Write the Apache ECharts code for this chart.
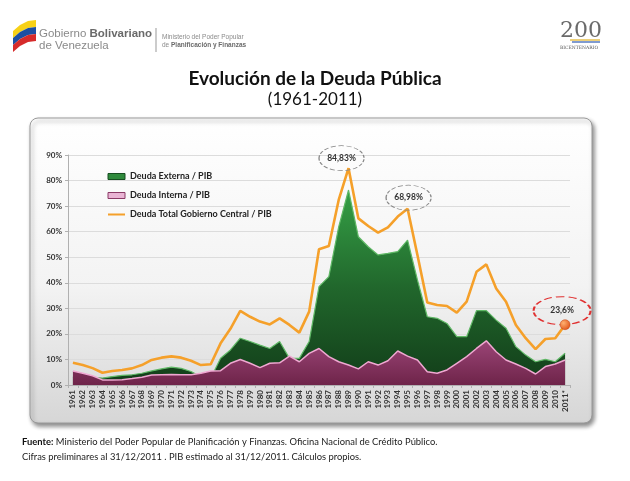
<!DOCTYPE html>
<html><head><meta charset="utf-8">
<script src="https://cdn.jsdelivr.net/npm/echarts@6/dist/echarts.min.js"></script>
<style>html,body{margin:0;padding:0;background:#fff}#c{width:630px;height:481px}</style>
</head><body><div id="c"></div>
<script>
const years = ['1961','1962','1963','1964','1965','1966','1967','1968','1969','1970','1971','1972','1973','1974','1975','1976','1977','1978','1979','1980','1981','1982','1983','1984','1985','1986','1987','1988','1989','1990','1991','1992','1993','1994','1995','1996','1997','1998','1999','2000','2001','2002','2003','2004','2005','2006','2007','2008','2009','2010','2011*'];
const deudaTotal = [8.7,7.8,6.6,4.8,5.5,5.9,6.5,7.8,9.8,10.7,11.2,10.7,9.5,7.8,8.1,16.3,22.0,29.0,26.7,24.8,23.7,26.1,23.5,20.5,28.7,53.1,54.4,72.4,84.83,65.2,62.2,59.6,61.7,65.9,68.98,50.9,32.3,31.3,30.9,28.3,32.6,44.3,47.2,37.8,32.6,23.5,18.3,14.0,18.0,18.3,23.6];
const deudaExterna = [3.2,3.2,3.0,2.7,3.3,3.8,4.0,4.6,5.5,6.3,7.0,6.5,5.3,3.2,2.6,10.5,13.7,18.3,17.0,15.6,14.3,17.0,10.4,10.4,17.0,38.5,42.4,61.9,76.3,58.0,54.1,50.9,51.5,52.2,56.7,41.1,26.7,26.1,24.1,18.9,18.9,29.1,29.1,25.4,22.2,15.0,11.7,9.1,10.0,9.1,12.4];
const deudaInterna = [5.5,4.6,3.6,2.0,2.0,2.1,2.5,3.0,3.9,4.0,4.1,4.0,4.0,4.6,5.5,5.6,8.5,10.0,8.5,6.8,8.5,8.7,11.3,9.1,12.4,14.3,11.1,9.1,7.8,6.3,9.1,7.8,9.5,13.3,11.3,9.8,5.2,4.6,5.9,8.5,11.1,14.3,17.3,13.0,9.8,8.2,6.5,4.3,7.2,8.2,9.8];
const seriesNames = ['Deuda Externa / PIB','Deuda Interna / PIB','Deuda Total Gobierno Central / PIB'];
const yAxisMin = 0, yAxisMax = 90, yAxisStep = 10;
const calloutYears = ['1989','1995','2011*'];
const calloutTexts = ['84,83%','68,98%','23,6%'];
const trendArrow = [['1993', 93], ['2010', 41.5]];

const F = 'Lato, "Open Sans", sans-serif';
const A = '"Liberation Sans", Arial, sans-serif';
const ellipsePath = 'path://M0,50 C0,22 22,0 50,0 C78,0 100,22 100,50 C100,78 78,100 50,100 C22,100 0,78 0,50 Z';
const totalIdx = n => years.indexOf(n);

const chart = echarts.init(document.getElementById('c'));
chart.setOption({
  backgroundColor: '#ffffff',
  animation: false,
  title: {
    text: 'Evolución de la Deuda Pública',
    subtext: '(1961-2011)',
    left: 'center', top: 64, itemGap: 3,
    textStyle: {fontFamily: F, fontSize: 19, fontWeight: 'bold', color: '#111'},
    subtextStyle: {fontFamily: F, fontSize: 17, color: '#111'}
  },
  graphic: [
    {type:'rect', z:-10, shape:{x:30,y:118,width:562,height:305,r:8},
     style:{fill:{type:'linear',x:0,y:0,x2:0,y2:1,colorStops:[{offset:0,color:'#ffffff'},{offset:0.55,color:'#f3f3f3'},{offset:1,color:'#d6d6d6'}]},
       stroke:'#9a9a9a', lineWidth:1, shadowBlur:4, shadowOffsetX:2, shadowOffsetY:3, shadowColor:'rgba(0,0,0,0.45)'}},
    // flag logo
    {type:'polygon', shape:{points:[[13,31],[20,25],[28,21],[36,20],[36,27],[28,28],[20,32],[13,38]]}, style:{fill:'#f7d117'}},
    {type:'polygon', shape:{points:[[13,38],[20,32],[28,28],[36,27],[36,34],[28,35],[20,39],[13,45]]}, style:{fill:'#1c4fa3'}},
    {type:'polygon', shape:{points:[[13,45],[20,39],[28,35],[36,34],[36,41],[28,42],[20,46],[13,52]]}, style:{fill:'#d62b2b'}},
    {type:'text', left:39, top:28, style:{text:'{l|Gobierno }{b|Bolivariano}', rich:{l:{fontFamily:A,fontSize:11.5,fill:'#8a8a8a'},b:{fontFamily:A,fontSize:11.5,fontWeight:'bold',fill:'#6a6a6a'}}}},
    {type:'text', left:39, top:40, style:{text:'de Venezuela', fontFamily:A, fontSize:11.5, fill:'#8a8a8a'}},
    {type:'line', shape:{x1:156,y1:28,x2:156,y2:52}, style:{stroke:'#999',lineWidth:1}},
    {type:'text', left:162, top:34, style:{text:'Ministerio del Poder Popular', fontFamily:A, fontSize:6.5, fill:'#8a8a8a'}},
    {type:'text', left:162, top:42, style:{text:'de {b|Planificación y Finanzas}', fontFamily:A, fontSize:6.5, fill:'#8a8a8a', rich:{b:{fontFamily:A,fontSize:6.5,fontWeight:'bold',fill:'#6a6a6a'}}}},
    // bicentenario logo
    {type:'text', left:560, top:20, style:{text:'200', fontFamily:'"DejaVu Serif", serif', fontSize:22, fill:'#6a6a6a'}},
    {type:'line', shape:{x1:570,y1:40,x2:600,y2:40}, style:{stroke:'#e0b020',lineWidth:1.2}},
    {type:'line', shape:{x1:572,y1:42,x2:600,y2:42}, style:{stroke:'#2a58b0',lineWidth:1.2}},
    {type:'text', left:560, top:45, style:{text:'BICENTENARIO', fontFamily:'"DejaVu Serif", serif', fontSize:4.5, fill:'#555'}},
    // footer
    {type:'text', left:22, top:437, style:{text:'{b|Fuente:} Ministerio del Poder Popular de Planificación y Finanzas. Oficina Nacional de Crédito Público.', fontFamily:F, fontSize:9.4, fill:'#222', rich:{b:{fontFamily:F,fontSize:9.4,fontWeight:'bold',fill:'#111'}}}},
    {type:'text', left:22, top:452, style:{text:'Cifras preliminares al 31/12/2011 . PIB estimado al 31/12/2011. Cálculos propios.', fontFamily:F, fontSize:9.4, fill:'#222'}}
  ],
  legend: {
    orient:'vertical', left:102, top:167, itemGap:10, itemWidth:17, itemHeight:6,
    textStyle:{fontFamily:F, fontSize:9, fontWeight:'bold', color:'#222'},
    data:[
      {name:seriesNames[0], icon:'rect', itemStyle:{color:'#2f8a3c', borderColor:'#174d20', borderWidth:1}},
      {name:seriesNames[1], icon:'rect', itemStyle:{color:'#e9b4d4', borderColor:'#8a3a66', borderWidth:1}},
      {name:seriesNames[2], itemStyle:{opacity:0}, lineStyle:{color:'#f5a02a', width:2}}
    ]
  },
  grid: {left:68, right:60, top:155, bottom:96},
  xAxis: {
    type:'category', data:years, boundaryGap:true,
    axisLine:{lineStyle:{color:'#b0b0b0'}},
    axisTick:{show:true, length:3, lineStyle:{color:'#b0b0b0'}},
    axisLabel:{rotate:90, fontFamily:F, fontSize:8, fontWeight:'bold', color:'#333', margin:5, interval:0}
  },
  yAxis: {
    type:'value', min:yAxisMin, max:yAxisMax, interval:yAxisStep,
    axisLine:{show:true, lineStyle:{color:'#b0b0b0'}},
    axisTick:{show:true, length:3, lineStyle:{color:'#b0b0b0'}},
    axisLabel:{formatter:'{value}%', fontFamily:F, fontSize:8, fontWeight:'bold', color:'#333', margin:6},
    splitLine:{lineStyle:{color:'#dcdcdc'}}
  },
  series: [
    {name:seriesNames[0], type:'line', data:deudaExterna, symbol:'none', z:2,
     itemStyle:{color:'#2f8a3c'},
     lineStyle:{color:'#5fb865', width:1.2},
     areaStyle:{opacity:1, color:{type:'linear',x:0,y:0,x2:0,y2:1,colorStops:[{offset:0,color:'#35a046'},{offset:0.5,color:'#21672c'},{offset:1,color:'#123d19'}], global:false}}},
    {name:seriesNames[1], type:'line', data:deudaInterna, symbol:'none', z:3,
     itemStyle:{color:'#b0588a'},
     lineStyle:{color:'#f0a8d2', width:1.5},
     areaStyle:{opacity:1, color:{type:'linear',x:0,y:0,x2:0,y2:1,colorStops:[{offset:0,color:'#9b4577'},{offset:1,color:'#6e2449'}]}}},
    {name:seriesNames[2], type:'line', data:deudaTotal, symbol:'none', z:4,
     itemStyle:{color:'#f5a02a'},
     lineStyle:{color:'#f5a02a', width:2.6},
     markPoint:{
       symbol:ellipsePath, silent:true,
       data:[
         {coord:[calloutYears[0], deudaTotal[totalIdx(calloutYears[0])]], value:calloutTexts[0], symbolSize:[45,25], symbolOffset:[-7,-10],
          itemStyle:{color:'rgba(255,255,255,0)', borderColor:'#888', borderWidth:1, borderType:'dashed'}},
         {coord:[calloutYears[1], deudaTotal[totalIdx(calloutYears[1])]], value:calloutTexts[1], symbolSize:[45,25], symbolOffset:[1,-11],
          itemStyle:{color:'rgba(255,255,255,0)', borderColor:'#888', borderWidth:1, borderType:'dashed'}},
         {coord:[calloutYears[2], deudaTotal[totalIdx(calloutYears[2])]], value:calloutTexts[2], symbolSize:[57,28], symbolOffset:[-3,-14],
          itemStyle:{color:'rgba(255,255,255,0)', borderColor:'#e03030', borderWidth:1.5, borderType:'dashed'}},
         {coord:[calloutYears[2], deudaTotal[totalIdx(calloutYears[2])]], symbol:'circle', symbolSize:10, label:{show:false},
          itemStyle:{color:{type:'radial',x:0.35,y:0.35,r:0.7,colorStops:[{offset:0,color:'#ffb070'},{offset:1,color:'#e0551a'}]}, borderColor:'#c04010', borderWidth:0.5}}
       ],
       label:{show:true, position:'inside', formatter:p => p.value, fontFamily:F, fontSize:8.5, fontWeight:'bold', color:'#333'}
     },
     markLine:{
       silent:true, symbol:['none','arrow'], symbolSize:[7,8],
       label:{show:false},
       lineStyle:{color:'#e03a3a', width:1, type:'solid'},
       data:[[{coord:trendArrow[0]},{coord:trendArrow[1]}]]
     }}
  ]
});
</script>
</body></html>
